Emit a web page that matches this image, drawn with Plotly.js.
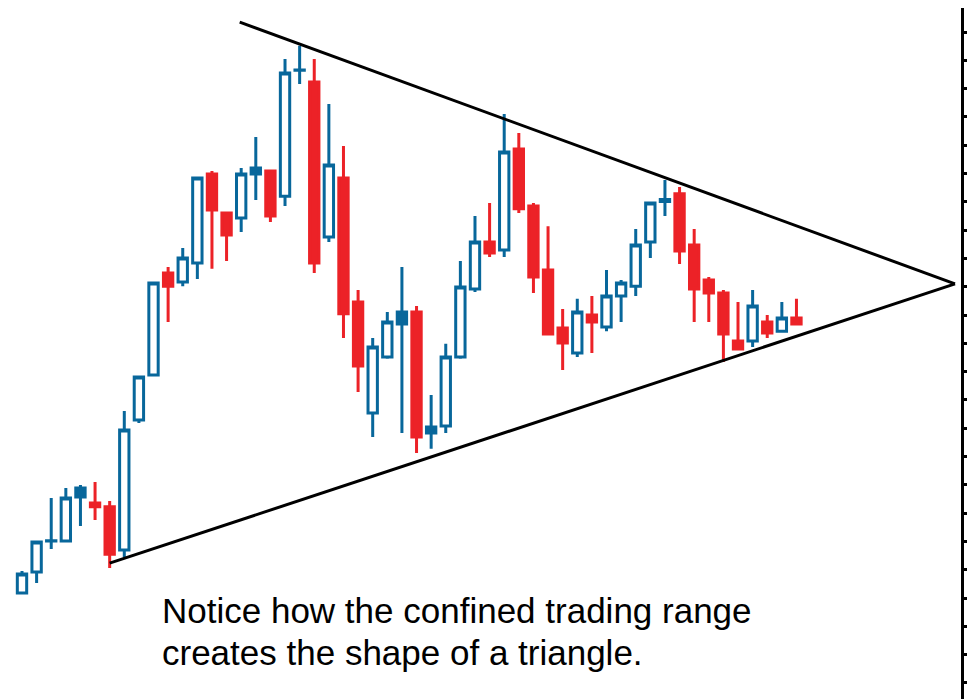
<!DOCTYPE html>
<html>
<head>
<meta charset="utf-8">
<script src="https://cdn.plot.ly/plotly-3.0.1.min.js"></script>
<style>
  html, body { margin: 0; padding: 0; background: #ffffff; }
  #chart { width: 967px; height: 699px; }
</style>
</head>
<body>
<div id="chart"></div>
<script>
// ---- Data ----
const openP  = [4.18, 4.92, 6.01, 6.01, 7.57, 7.36, 7.22, 5.70, 10.29, 11.88,
                15.48, 15.17, 15.84, 18.98, 17.60, 17.43, 18.98, 19.09, 18.20, 22.65,
                22.23, 16.76, 18.84, 14.46, 10.54, 12.52, 13.68, 14.11, 9.83, 10.08,
                12.52, 14.92, 16.58, 16.30, 19.87, 17.85, 15.59, 13.54, 12.66, 14.00,
                13.58, 14.67, 15.02, 16.58, 18.01, 18.28, 16.47, 15.24, 14.78, 13.08,
                13.08, 13.75, 13.43, 13.89];
const highP  = [4.95, 5.98, 7.53, 7.89, 7.99, 8.10, 7.43, 10.61, 11.81, 15.13,
                15.70, 16.37, 18.84, 19.09, 17.60, 19.19, 20.29, 19.09, 23.05, 23.51,
                23.05, 21.46, 19.97, 14.88, 13.19, 14.11, 15.70, 14.32, 11.17, 12.98,
                15.91, 17.50, 17.96, 21.10, 20.43, 17.96, 17.14, 14.21, 14.57, 14.67,
                15.59, 15.24, 17.04, 17.96, 18.77, 18.52, 17.04, 15.34, 14.88, 14.46,
                14.88, 14.00, 14.46, 14.57];
const lowP   = [4.18, 4.53, 5.73, 6.01, 6.54, 6.76, 5.06, 5.45, 10.18, 11.88,
                13.75, 15.02, 15.27, 15.63, 15.91, 16.93, 18.06, 17.29, 17.85, 22.16,
                15.48, 16.58, 13.19, 11.28, 9.69, 12.45, 9.83, 9.12, 9.27, 9.83,
                12.45, 14.81, 16.05, 16.05, 17.60, 14.78, 13.33, 12.06, 12.52, 12.66,
                13.43, 13.75, 14.67, 16.01, 17.50, 15.80, 13.75, 13.75, 12.34, 12.80,
                12.87, 13.19, 13.43, 13.68];
const closeP = [4.85, 5.98, 6.02, 7.53, 7.89, 7.22, 5.55, 9.94, 11.81, 15.13,
                15.02, 16.01, 18.84, 17.71, 16.83, 18.98, 19.19, 17.50, 22.55, 22.66,
                15.84, 19.30, 14.04, 12.20, 12.87, 13.75, 14.11, 9.69, 10.04, 12.52,
                14.99, 16.58, 16.19, 19.76, 17.75, 15.34, 13.33, 13.01, 14.11, 13.75,
                14.67, 15.13, 16.47, 17.96, 18.08, 16.26, 14.92, 14.78, 13.33, 12.80,
                14.32, 13.36, 13.89, 13.68];
// sessions whose small up-body is drawn solid blue in the original
const solidUpSessions = [4, 16, 26, 28, 44];

// Triangle trendlines (session index, price)
const upperLineX = [14.9, 63.85];
const upperLineY = [24.35, 15.10];
const lowerLineX = [6.0, 63.85];
const lowerLineY = [5.23, 15.10];

const noteLine1 = 'Notice how the confined trading range';
const noteLine2 = 'creates the shape of a triangle.';

// ---- Styles ----
const upColor = '#08679b';
const downColor = '#ec2227';

const sessions = openP.map((_, i) => i);
function pick(arr, keep) { return sessions.filter(keep).map(i => arr[i]); }
const isSolid = i => solidUpSessions.includes(i);
const isNormal = i => !solidUpSessions.includes(i);

function candleTrace(keep, upFill) {
  return {
    type: 'candlestick',
    x: sessions.filter(keep),
    open: pick(openP, keep), high: pick(highP, keep),
    low: pick(lowP, keep), close: pick(closeP, keep),
    increasing: { line: { color: upColor, width: 3 }, fillcolor: upFill },
    decreasing: { line: { color: downColor, width: 3 }, fillcolor: downColor },
    whiskerwidth: 0,
    hoverinfo: 'skip',
    showlegend: false
  };
}

const traces = [
  candleTrace(isNormal, '#ffffff'),
  candleTrace(isSolid, upColor),
  {
    type: 'scatter', mode: 'lines',
    x: upperLineX, y: upperLineY,
    line: { color: '#000000', width: 3 },
    hoverinfo: 'skip', showlegend: false
  },
  {
    type: 'scatter', mode: 'lines',
    x: lowerLineX, y: lowerLineY,
    line: { color: '#000000', width: 3 },
    hoverinfo: 'skip', showlegend: false
  }
];

const layout = {
  width: 967, height: 699,
  margin: { l: 0, r: 6, t: 8, b: 0, pad: 0 },
  paper_bgcolor: '#ffffff',
  plot_bgcolor: '#ffffff',
  showlegend: false,
  boxgap: 0.2,
  boxgroupgap: 0.2,
  xaxis: {
    range: [-1.5055, 64.26],
    visible: false,
    rangeslider: { visible: false },
    showgrid: false, zeroline: false, fixedrange: true
  },
  yaxis: {
    side: 'right',
    range: [0.431, 24.848],
    showline: true, linecolor: '#000000', linewidth: 3,
    ticks: 'outside', ticklen: 3, tickwidth: 3, tickcolor: '#000000',
    tick0: 0, dtick: 1,
    showticklabels: false,
    showgrid: false, zeroline: false, fixedrange: true
  },
  annotations: [
    {
      text: noteLine1, xref: 'paper', yref: 'paper',
      x: 160 / 961, y: 0.1274, xanchor: 'left', yanchor: 'middle',
      showarrow: false,
      font: { family: 'Liberation Sans, Arial, sans-serif', size: 35, color: '#000000' }
    },
    {
      text: noteLine2, xref: 'paper', yref: 'paper',
      x: 160 / 961, y: 0.0666, xanchor: 'left', yanchor: 'middle',
      showarrow: false,
      font: { family: 'Liberation Sans, Arial, sans-serif', size: 35, color: '#000000' }
    }
  ]
};

Plotly.newPlot('chart', traces, layout, { displayModeBar: false, staticPlot: true });
</script>
</body>
</html>
